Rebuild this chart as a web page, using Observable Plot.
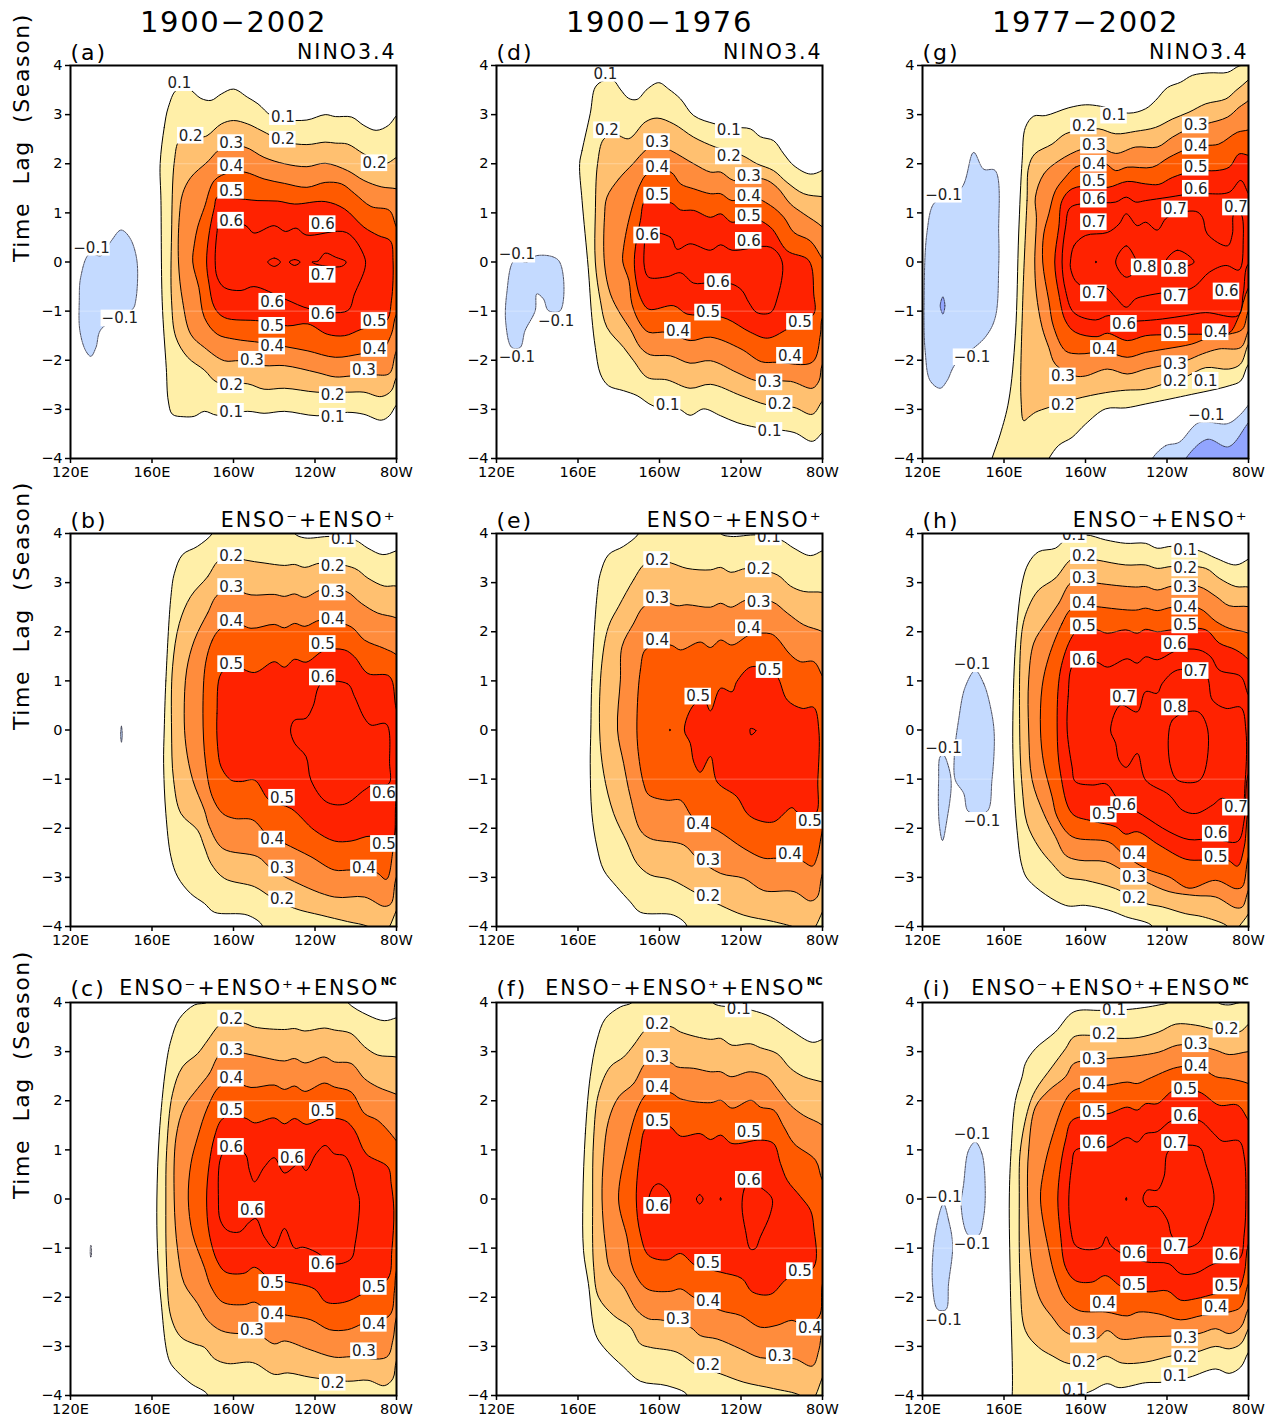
<!DOCTYPE html>
<html><head><meta charset="utf-8">
<script src="https://cdn.jsdelivr.net/npm/d3@7"></script>
<script src="https://cdn.jsdelivr.net/npm/@observablehq/plot@0.6"></script>
<style>
html,body{margin:0;padding:0;background:#fff}
#page{position:relative;width:1271px;height:1422px;overflow:hidden}
#page svg{position:absolute;overflow:visible;background:transparent}
.ttl text{letter-spacing:1.7px}
.hdr text{letter-spacing:2px}
.yl text{letter-spacing:1.6px}
</style></head><body><div id="page"></div>
<script>
// Contours: flat lists of longitude (deg E, 200 = 160W), lag (season)
const a1=[164,2,166,2.74,168,3.15,172,3.5,178,3.52,184,3.33,189,3.29,194,3.42,200,3.52,207,3.35,212,3.22,218.5,2.98,225,2.9,236,2.89,245,3,250,2.96,258,2.95,264,2.78,270,2.68,276,2.78,280,2.98,286,3.2,286,-2.7,280,-2.91,276.5,-3.13,272.5,-3.22,264,-3.1,256,-3.06,241,-3.13,225,-3.04,215,-3.08,207,-3.04,192,-3.12,185.7,-3.04,180.8,-3.14,175.6,-3.15,170,-3.1,168,-2.83,167,-2.15,165,-.8,164.4,1.25];
const a2=[173.4,2.47,179,2.55,184,2.54,187,2.57,194,2.81,200,2.88,207,2.81,213.5,2.68,225,2.45,236,2.39,245,2.44,250,2.42,256,2.4,264,2.2,274,2,280,2.13,286,2.3,286,-2.1,280,-2.35,277.5,-2.62,272.5,-2.74,264,-2.65,256,-2.65,241,-2.65,225,-2.57,215,-2.59,207,-2.48,192,-2.45,185.7,-2.2,177.5,-1.94,171.7,-1.53,169.6,-.79,169.6,.57,171,2.06];
const a3=[179,1.72,187,2.03,195,2.34,205.5,2.34,215,2.13,225,2,236,1.94,245,2.01,256,1.86,264,1.66,272.5,1.53,280,1.49,286,1.4,286,-1.5,280,-1.81,276.5,-2.27,269,-2.3,257.7,-2.32,250,-2.34,241,-2.25,225,-2.11,215,-2.11,203,-2.01,195.5,-2.01,185.7,-1.74,179,-1.47,175,-.79,173,0,173.4,.91,175,1.39];
const a4=[190.6,1.66,198,1.82,205.5,1.83,215,1.69,225,1.6,236,1.52,245,1.62,253,1.59,259.5,1.39,267.5,1.13,276.5,1.05,280,.71,286,.3,286,-.8,280,-1.06,277.5,-1.47,272.5,-1.81,262.7,-1.87,250,-1.94,236.5,-1.81,225,-1.72,213.5,-1.64,200.4,-1.57,192,-1.47,185.7,-1.13,183,-.52,180,0,180.8,.37,182.4,.71,185.7,1.11];
const a5=[192,1.32,200,1.3,212,1.25,221.7,1.24,230,1.18,245,1.23,254.5,1.08,264,.71,271,.54,277,.43,278.3,.03,277.5,-.79,275,-1.2,262.7,-1.37,254.5,-1.5,246,-1.47,236.5,-1.26,226.6,-1.3,213,-1.2,195.5,-1.13,190.6,-.92,188,-.45,186.8,0,188,.57,190.6,1.11];
const a6=[193,.84,206,.74,210,.59,220,.74,225.5,.62,230.7,.69,235.6,.55,255.5,.6,264.3,.1,264.6,-.11,259.4,-.65,256,-.99,238,-.96,225,-.75,210,-.5,203.7,-.58,195.5,-.52,192,-.31,191,.03,192,.64];
const a7a=[216.8,0,220,.08,223,0,220,-.09];
const a7b=[227.4,0,230,.05,232.7,0,230,-.07];
const a7c=[238.5,0,241.5,.02,245,.18,250,.1,255.3,0,253,-.09,241,-.05];
const aN=[129.2,.16,135,.13,140,.43,144.8,.65,149,.5,152.6,.03,152,-.79,150.5,-.96,135,-1.37,132.5,-1.74,130,-1.92,127.5,-1.81,124.6,-1.4,124.3,-.79,125,-.31];
const aLabels=[.1,173.4,3.64,.1,224.2,2.95,.2,179,2.57,.2,224.2,2.49,.2,269.2,2.01,.3,198.8,2.42,.4,198.8,1.95,.5,198.8,1.45,.6,198.8,.84,.6,243.8,.77,.7,243.8,-.26,.6,219,-.81,.6,243.8,-1.06,.5,219,-1.3,.5,269.2,-1.2,.4,219,-1.72,.4,269.2,-1.77,.3,209,-1.99,.3,264,-2.2,.2,198.8,-2.51,.2,248.7,-2.71,.1,198.8,-3.05,.1,248.7,-3.15,-.1,130.3,.29,-.1,144.2,-1.15];

const dd1=[160.8,2,162,2.27,166,3.02,168.5,3.56,172.6,3.69,177.5,3.69,180.7,3.52,184.9,3.33,189,3.31,194,3.52,199.6,3.65,204.5,3.52,210.3,3.32,216.8,2.98,227.4,2.81,236,2.74,244.6,2.71,249.5,2.55,256,2.47,261,2.2,266,1.96,274,1.79,280,1.87,286,2.1,286,-3.2,280,-3.47,275,-3.65,266,-3.47,248,-3.37,238.1,-3.27,230,-3.13,221.7,-2.99,215,-3.12,209.4,-2.99,197,-2.93,189,-2.72,182.4,-2.62,175,-2.52,171,-2.28,168.5,-1.74,166.8,-1.13,165,-.11,162,1.25];
const dd2=[172.6,2.5,178,2.6,184.9,2.51,193,2.85,198.8,2.93,207,2.81,216.8,2.54,227.4,2.34,240.5,2.17,247.8,2,256,1.86,262.6,1.62,270.8,1.39,280,1.33,286,1.3,286,-2.6,280,-2.83,275,-3.1,266,-2.96,253,-2.91,240,-2.72,225,-2.49,215,-2.57,203.7,-2.4,194,-2.35,187.3,-2.01,182.4,-1.74,174.2,-1.33,171,-.79,168.5,0,168.5,.98,169.6,2];
const dd3=[174.2,1.32,180,1.69,187,2,193,2.27,198,2.4,205.5,2.27,216.8,2,225,1.83,230,1.83,236.4,1.66,251,1.69,257.7,1.52,264.3,1.18,270.8,.98,280,.71,286,.4,286,-1.8,280,-2.08,278.3,-2.42,275,-2.57,264.3,-2.43,247.8,-2.42,238,-2.25,225,-2.01,215,-2.06,205.3,-1.91,195.5,-1.89,190.6,-1.74,185.7,-1.37,180.8,-1.06,175.9,-.65,173,-.04,173,.91];
const dd4=[190.6,1.59,194,1.79,205.5,1.83,210.3,1.59,216.8,1.49,225,1.39,230,1.39,235.6,1.25,243.8,1.35,254.5,1.15,261,.91,266,.6,274,.43,280,.06,286,-.3,286,-.9,280,-1.13,279,-1.47,275,-2.04,257.7,-2.04,250,-2.03,240,-1.77,225,-1.53,215,-1.6,203.7,-1.43,194.7,-1.43,190.6,-1.26,186.5,-.86,185,-.38,182,0,182.4,.3,185.7,.98];
const dd5=[193,1.25,200,1.22,206,1.2,210.3,1.06,216.8,1.05,225,.91,230,.98,235.6,.81,243.8,.92,254.4,.71,262.6,.23,273.3,.03,275.7,-.65,275.7,-1.06,262.6,-1.37,253,-1.55,244.6,-1.43,233.2,-1.16,225,-1.08,213.5,-1.06,207,-.89,194.7,-.96,190.6,-.72,188,-.24,187.8,.16,190.6,.84];
const dd6=[193,.6,205.5,.5,208.6,.26,215,.37,225,.24,230,.35,235.6,.24,254.5,.3,260.2,0,257.7,-.75,254.5,-1.03,247.8,-1.03,243.8,-.82,240.5,-.58,235.6,-.45,225,-.42,216.8,-.43,210.3,-.22,203.7,-.3,194.7,-.31,192.6,-.11,192.6,.37];
const dN=[128.7,.03,134.9,0,139.8,.13,150.5,.03,151.3,-.99,145.5,-.99,143,-.75,139.8,-.65,139,-.99,134,-1.4,131.6,-1.74,127.5,-1.74,124.6,-1.26,125,-.65];
const dLabels=[.1,173.4,3.83,.2,174.2,2.68,.3,198.8,2.44,.1,234,2.68,.2,234,2.15,.4,198.8,1.93,.3,243.8,1.75,.4,243.8,1.34,.5,198.8,1.35,.5,243.8,.93,.6,193.9,.54,.6,243.8,.43,.6,228.7,-.41,.5,223.8,-1.03,.5,268.9,-1.22,.4,209,-1.4,.4,264,-1.91,.3,254,-2.45,.2,259,-2.89,.1,204,-2.91,.1,254,-3.44,-.1,130,.15,-.1,149.3,-1.2,-.1,130,-1.94];

const g1=[162.3,-2.83,165.6,-1.47,167.2,.57,168.9,2.06,170.5,2.74,174.6,2.97,180.3,2.98,191.8,3.14,200,3.2,207.4,3.17,221.3,3.03,229.5,3.12,234.4,3.29,240.2,3.55,246.7,3.66,252.5,3.8,260.7,3.85,269.7,3.86,275.4,3.99,282,4.04,288,4.1,288,-1.8,280,-2.08,276.2,-2.42,270.5,-2.52,249.2,-2.72,229.5,-2.89,219.7,-2.97,209.8,-2.99,200,-3.3,193.4,-3.57,186.9,-3.73,182,-4,178,-4.3,152,-4.3,154.1,-4,158.2,-3.5];
const g2=[169.2,-.79,171.3,1.25,172.1,1.93,175.1,2.2,183.6,2.4,190.2,2.61,198,2.68,206.6,2.71,214.8,2.61,224.6,2.66,234.4,2.74,242.6,2.91,250.8,3.05,259,3.22,268.9,3.32,273.8,3.49,280,3.71,286,4,286,-1.3,280,-1.67,276,-2.08,270.3,-2.18,259,-2.15,250,-2.32,237.7,-2.49,229.5,-2.59,219.7,-2.61,209.8,-2.66,195,-2.79,182,-2.96,175.4,-3.06,172.1,-3.16,169.7,-3.23,168.4,-2.83];
const g3=[175.4,1.32,179.5,1.79,186.9,2.06,198.4,2.3,206.6,2.34,214.8,2.21,224.6,2.34,235.2,2.34,242.6,2.54,250,2.7,259,2.81,269.7,2.95,275.4,3.15,280,3.29,286,3.6,286,-1,280,-1.4,276.2,-1.74,265.5,-1.77,257.4,-1.87,249.2,-2.01,237.7,-2.11,229.5,-2.18,220.5,-2.28,210.7,-2.18,200,-2.32,195,-2.32,185.2,-2.08,182,-1.74,178.7,-1.33,175.9,-.65,175.1,0,175.9,.91];
const g4=[190.2,1.73,195,1.93,203,2,209.8,2,214.8,1.86,220.5,1.93,232.8,1.93,241,2.13,250,2.3,259,2.37,265.4,2.4,274.5,2.64,280,2.69,286,2.8,286,-.6,280,-.99,277,-1.37,270.3,-1.47,260,-1.55,252.2,-1.67,239.3,-1.77,229.5,-1.84,220.5,-1.94,210,-1.83,196.7,-1.87,190.2,-1.81,184.4,-1.33,182,-.79,179,0,179.5,.57,182,.98,185.2,1.45];
const g5=[193.4,1.49,204,1.55,211.1,1.52,220.5,1.64,229.5,1.59,236,1.58,242.6,1.72,254,1.86,264,1.86,270.5,1.93,275.4,2.2,280,2.17,286,2.1,286,-.2,280,-.52,275,-1.13,270.3,-1.45,260,-1.47,250.8,-1.47,240,-1.48,229.5,-1.5,220.5,-1.6,210.7,-1.45,205.7,-1.52,195,-1.43,190.2,-1.2,186.9,-.65,184.9,0,186.9,.71,188.5,1.25];
const g6=[192.6,1.11,204,1.2,214.8,1.22,220,1.32,224.6,1.22,229.5,1.25,241,1.32,254,1.4,259.8,1.39,270.5,1.42,276.2,1.66,280,1.39,286,1,286,-.04,280,-.04,277.4,-.65,275,-1.09,259,-1.03,249.2,-1.09,237.7,-1.16,226.2,-1.2,218,-1.2,211.5,-1.09,204.9,-1.18,194.3,-1.03,190.2,-.58,188.5,0,190.2,.71];
const g7=[192.6,0,194.3,.33,200,.54,210.7,.6,216.4,.77,220,.98,225.4,.74,229.5,.81,235.2,.65,240.2,.91,254.1,1.03,257.4,.91,259.8,.57,269.7,.33,272.1,.57,272.9,.98,276.2,.98,277.4,.43,275.4,-.16,268.9,-.07,260.7,-.21,254.1,-.48,249.2,-.58,239.3,-.62,229.5,-.69,224.6,-.75,220,-.92,214.8,-.72,209.8,-.52,200,-.52,195,-.38,192.6,-.11];
const g8a=[214.8,0,220,.33,224.6,.06,226,-.1,220,-.31];
const g8b=[239.3,0,245.1,.24,253.3,0,248,-.1,241,-.1];
const g8c=[205,.02,205.4,0,205,-.02];
const gN1=[125.4,1.18,130,1.3,139.3,1.52,145.1,2.23,150,1.89,155.7,1.86,157.4,.57,157.4,-.1,155.7,-1.13,150.8,-1.53,136.1,-2.08,132,-2.42,128.7,-2.57,123.8,-2.42,121.3,-1.81,120.8,-.79,122.1,.57];
const gN2=[232.8,-4,239.3,-3.74,245.9,-3.67,255.7,-3.27,269.7,-3.29,275.4,-3.13,280,-2.91,286,-2.6,286,-4.3,230,-4.3];
const gN3=[249.2,-4,259.8,-3.61,270.2,-3.76,280,-3.27,286,-3,286,-4.3,246,-4.3];
const gN4=[130,-.71,131,-.89,130,-1.06,128.7,-.89];
const gLabels=[.1,214,2.98,.2,199.2,2.76,.3,254.1,2.78,.3,204.1,2.37,.4,254.1,2.35,.4,204.1,2,.5,254.1,1.92,.5,204.1,1.64,.6,254.1,1.49,.6,204.1,1.27,.7,243.9,1.07,.7,273.8,1.11,.7,204.1,.81,.8,229,-.11,.8,243.9,-.14,.6,269.2,-.6,.7,204.1,-.64,.7,243.9,-.7,.6,218.9,-1.26,.5,243.9,-1.45,.4,263.9,-1.43,.4,209,-1.77,.3,243.9,-2.08,.2,243.9,-2.42,.1,259,-2.42,.3,188.9,-2.33,.2,188.9,-2.91,-.1,259.3,-3.11,-.1,130.3,1.37,-.1,144.3,-1.94];

const b1=[166,0,166.8,1,169.3,2.72,171,3.19,175,3.57,182.4,3.74,189.8,4.01,192,4.3,228,4.3,230,4,235,3.91,248,3.94,259.5,3.87,266,3.7,273.3,3.57,280,3.65,288,3.8,288,-4.3,212,-4.3,214.3,-4,207,-3.77,190.6,-3.71,185.7,-3.53,179,-3.33,172.6,-2.99,169.3,-2.58,166.8,-1.7,165.7,-.68];
const b2=[192.2,3.43,187.3,3.12,179,2.72,173.4,2.17,170.1,1.29,169.6,0,170.6,-1.02,174.2,-1.7,182.4,-2.04,185.7,-2.38,189,-2.72,195.5,-3.02,210.3,-3.19,218.5,-3.4,229.9,-3.63,243,-3.77,256,-3.9,266,-4,270.8,-4.15,274,-4.15,276.6,-4,280,-3.67,286,-3.2,286,2.8,280,2.93,274,2.93,266,3.09,259.5,3.29,243,3.4,235,3.31,230,3.37,225,3.35,215,3.4,205.7,3.46,198,3.55];
const b3=[192.2,2.75,187.3,2.38,180.8,1.83,177,1.22,175.8,.34,176.7,-.34,180,-1.02,185.7,-1.63,188.2,-1.97,194.7,-2.41,211.9,-2.58,218.5,-2.82,230,-3.09,249.5,-3.4,264.3,-3.4,274,-3.59,277.4,-3.53,280,-2.99,286,-2.6,286,2.1,280,2.28,270.8,2.38,262.7,2.58,255.3,2.82,243,2.85,235,2.7,230,2.77,225,2.72,220,2.76,208.6,2.75,200,2.85];
const b4=[193,2.04,189.6,1.83,186.3,1.36,185,.34,186.3,-.68,189.6,-1.36,194.7,-1.7,200.4,-1.8,209.4,-1.83,217,-2.15,225,-2.31,238,-2.58,249.5,-2.85,257.7,-2.85,270,-2.9,275,-3.04,278.3,-2.45,280,-1.9,286,-1.2,286,1.2,280,1.53,274,1.66,264.3,1.83,257.7,2.1,243,2.24,235,2.11,230,2.17,225,2.08,220,2.15,208.6,2.07,200,2.2];
const b5=[193.9,1.15,191.9,.34,192.2,-.34,193.9,-.75,198.8,-1.02,203.7,-1.05,210.3,-1.02,217.6,-1.43,228.3,-1.6,239.7,-2.04,249.5,-2.26,257.7,-2.26,267.5,-2.16,277.4,-2.31,280,-1.36,286,-.4,286,-.2,280,.41,276.6,1.09,266,1.15,259.4,1.49,254.5,1.63,244.6,1.62,235.6,1.38,230,1.44,225,1.28,220,1.39,210.3,1.17,200,1.3];
const b6=[243,.94,256,.94,259.4,.68,264.3,.24,267.5,.1,275,.12,276.6,-.68,276.3,-1.09,268.4,-1.12,264.3,-1.22,254.5,-1.51,245.5,-1.46,238,-1.02,235.6,-.54,230,-.27,228,0,229.9,.2,235.6,.24,239,.48];
const bN=[144.6,-.1,145,.08,145.4,-.1,145,-.25];
const bLabels=[.1,253.7,3.88,.2,198.8,3.54,.2,248.7,3.34,.3,198.8,2.91,.3,248.7,2.8,.4,198.8,2.22,.4,248.7,2.25,.5,243.8,1.75,.5,198.8,1.34,.6,243.8,1.07,.5,223.8,-1.38,.6,273.8,-1.29,.4,219,-2.23,.5,273.8,-2.32,.4,264,-2.82,.3,223.8,-2.82,.2,223.8,-3.45];

const e1=[166.3,0,166.8,1.02,169.3,2.72,171,3.19,175,3.57,182.4,3.74,189.8,4,192,4.3,228,4.3,230,4,235,3.94,248,3.97,259.5,3.87,266,3.7,274,3.55,280,3.65,288,3.8,288,-4.3,211,-4.3,213.5,-4,207,-3.77,190.6,-3.71,185.7,-3.5,179,-3.19,172.6,-2.85,169.3,-2.38,166.8,-1.7,166,-.68];
const e2=[192.2,3.36,187.3,3.06,180,2.52,175,2.11,171.7,1.36,170.6,0,172.6,-.88,177.5,-1.7,184,-2.28,189,-2.72,195.5,-2.95,205.3,-3.04,218.5,-3.33,230,-3.57,241.4,-3.77,256,-3.9,267.6,-4.04,271,-4.15,274,-4.15,276.6,-4,280,-3.7,286,-3.2,286,2.7,280,2.8,270.8,2.82,264.3,2.93,257.7,3.16,243,3.29,235,3.21,230,3.31,225,3.26,213.5,3.29,205.7,3.4,198,3.48];
const e3=[192.2,2.51,187.3,2.17,181.6,1.7,180.8,1.02,179.4,0,182.4,-.68,185.7,-1.36,190.6,-2.04,195.5,-2.21,211.9,-2.34,218.5,-2.61,230,-2.92,241.4,-3.02,251.2,-3.27,266,-3.29,274,-3.48,277.4,-3.4,280,-2.92,286,-2.4,286,1.8,280,2,270.8,2.14,262.7,2.38,255.3,2.61,243,2.65,235,2.5,230,2.58,225,2.5,213.5,2.55,208.6,2.53,200,2.65];
const e4=[193,1.63,190.6,1.22,189,.34,189.3,-.34,192.2,-1.09,194.7,-1.32,203.7,-1.43,210.3,-1.43,216.8,-1.8,228.3,-2.04,241.4,-2.41,251.2,-2.61,257.7,-2.61,269,-2.65,275,-2.77,277.4,-2.58,280,-2.04,286,-1.2,286,.6,280,1.09,275.7,1.39,269.2,1.39,264.3,1.53,257.7,1.87,254.5,1.96,244.6,1.94,235.6,1.73,230,1.83,225,1.68,220,1.79,210.3,1.63,206.2,1.72,200,1.75];
const e5=[212.2,0,216.8,.51,222,.6,225,.39,230,.85,235.6,.78,238,.99,244.6,1.28,252,1.25,257.7,1.09,262.7,.61,270,.44,275.7,.46,278.2,0,277.7,-1.02,276.6,-1.7,267.6,-1.67,265,-1.58,256,-1.87,247.9,-1.83,243,-1.7,238,-1.36,228.3,-1.06,225,-.54,220,-.86,216.8,-.65,215.1,-.27];
const e6=[244.6,.03,247.4,-.01,244.9,-.1];
const e7=[205,.02,205.4,0,205,-.02];
const eLabels=[.1,253.7,3.92,.2,198.8,3.46,.2,248.7,3.27,.3,198.8,2.68,.3,248.7,2.61,.4,243.8,2.07,.4,198.8,1.82,.5,254,1.22,.5,219,.68,.5,273.8,-1.85,.4,219,-1.92,.4,264,-2.53,.3,223.8,-2.64,.2,223.8,-3.38];

const h1=[164.3,0,165.6,1.7,168.9,2.99,172.1,3.4,177,3.63,185.2,3.7,190.2,3.87,200,3.97,209.8,3.87,219.7,3.8,229.5,3.8,235.2,3.7,242.6,3.74,255.7,3.65,263.9,3.5,273.8,3.36,280,3.48,288,3.7,288,-4.3,230,-4.3,232.8,-4,219.7,-3.8,211.5,-3.67,200,-3.57,190.2,-3.57,172.1,-3.06,168.9,-2.78,166.4,-2.04,164.8,-1.02];
const h2=[192.6,3.46,185.2,3.09,177,2.85,172.1,2.51,168.9,2.04,167.7,0,168.9,-1.15,171.3,-1.9,177,-2.38,183.6,-2.72,190.2,-2.99,200,-3.06,214.8,-3.23,229.5,-3.53,237.7,-3.6,249.2,-3.74,257.4,-3.8,268.9,-3.97,272,-4.1,274,-4.1,275.4,-4,280,-3.74,286,-3.2,286,2.8,280,2.91,273.8,2.92,265.6,3.09,259,3.29,242.6,3.33,235.2,3.29,229.5,3.36,219.7,3.36,205.7,3.46,198,3.52];
const h3=[192.6,2.99,186.9,2.58,180.3,2.17,174.6,1.77,172.1,1.02,172.1,0,173.8,-1.02,179.5,-1.7,185.2,-2.17,190.2,-2.55,196.7,-2.65,209.8,-2.68,218,-2.85,229.5,-3.09,241,-3.29,254.1,-3.37,263.9,-3.4,273.8,-3.62,277,-3.6,280,-3.26,286,-2.8,286,2.4,280,2.51,270.5,2.53,264,2.72,255.7,2.92,242.6,2.93,235.2,2.85,229.5,2.92,224.6,2.91,205.7,2.99,198,3.05];
const h4=[192.6,2.45,188.5,2.17,182,1.49,178.7,.88,177.9,0,179.5,-.68,183.6,-1.36,186.1,-1.77,193.4,-2.17,211.5,-2.28,218,-2.51,229.5,-2.82,241,-2.99,250.8,-3.22,263.9,-3.06,273.8,-3.23,277,-3.19,280,-2.58,286,-2,286,1.8,280,1.97,270.5,2.07,264,2.21,255.7,2.48,242.6,2.5,235.2,2.43,229.5,2.48,224.6,2.44,205.7,2.51,198,2.55];
const h5=[193.4,1.9,187.7,1.22,186.1,0,187.7,-.88,193.4,-1.7,203,-1.85,214.8,-1.97,219.7,-2.12,225.4,-2.07,236.1,-2.34,249.2,-2.63,257.4,-2.65,269.7,-2.65,274.6,-2.77,277.9,-2.38,280,-1.63,286,-1,286,1,280,1.43,273.8,1.63,265.6,1.77,259,2.04,242.6,2.04,235.2,2,229.5,2.05,225.4,1.97,219.7,2.04,210.7,1.97,205.7,2.04,198,2.1];
const h6=[193.4,1.29,191.5,.68,191,0,193.4,-.75,195,-1.05,203.3,-1.12,210.2,-1.1,216.4,-1.43,227.9,-1.73,241,-2.07,250.8,-2.23,262.3,-2.21,274.6,-2.27,277.9,-1.83,280,-.88,286,-.5,286,.4,280,.71,276.2,1.09,265.6,1.22,261.5,1.49,255.7,1.63,245,1.62,235.2,1.43,229.5,1.49,225.4,1.36,220.5,1.45,210.7,1.28,205.7,1.38,198,1.42];
const h7=[212.3,0,217.2,.51,225.4,.37,229.5,.78,235.2,.75,237.7,.95,245.1,1.22,259,1.12,262.3,.61,268.9,.44,276.2,.46,278.7,0,278.4,-1.02,276.2,-1.6,267.2,-1.39,262.3,-1.53,254.1,-1.7,247.5,-1.63,241,-1.32,229.5,-1.02,225.4,-.48,220,-.76,216.4,-.61,214.8,-.27];
const h8=[240.7,-.14,242.6,.2,249.2,.36,255.7,.36,260,0,258.2,-.88,254.9,-1.05,245.1,-1.02,241.8,-.75];
const hN1=[145.9,1.21,150,.95,153.3,.48,155.2,-.07,154.1,-1.02,151.6,-1.66,142.6,-1.66,140.2,-1.29,136.1,-1.02,135.6,-.54,137.7,.2,141,.88];
const hN2=[130.3,-.51,132.8,-.75,134.1,-1.09,132,-1.83,129.8,-2.25,128.2,-1.9,127.9,-1.02,128.7,-.54];
const hLabels=[.1,194.3,3.97,.1,248.9,3.67,.2,199.2,3.54,.2,248.9,3.29,.3,199.2,3.09,.3,248.9,2.91,.4,199.2,2.59,.4,248.9,2.51,.5,199.2,2.11,.5,248.9,2.13,.6,243.9,1.75,.6,199.2,1.43,.7,254.1,1.2,.7,218.9,.66,.8,243.9,.46,.5,209,-1.72,.6,218.9,-1.53,.7,273.8,-1.58,.6,263.9,-2.11,.5,263.9,-2.58,.4,223.8,-2.53,.3,223.8,-2.99,.2,223.8,-3.43,-.1,144.3,1.34,-.1,130.3,-.37,-.1,149.2,-1.85];

const c1=[162.4,0,163.6,1.33,166.8,2.69,169.3,3.23,173.4,3.67,180.8,3.95,187.3,4.01,190,4.3,252,4.3,256,4,266,3.74,274,3.63,280,3.69,288,3.8,288,-4.3,185,-4.3,187.3,-3.99,179.2,-3.76,172.6,-3.52,168.5,-3.29,164.4,-2.06,162.7,-1.05];
const c2=[193,3.54,187.3,3.23,182.4,2.96,175,2.69,170.1,2.15,167.2,.99,166.8,0,167.2,-1.39,169.3,-2.4,174.2,-2.81,180.8,-2.95,185.7,-3.02,190.6,-3.25,197.1,-3.35,209.4,-3.33,220,-3.57,226.6,-3.54,238,-3.63,256,-3.71,266,-3.69,274,-3.8,278.2,-3.66,280,-3.29,286,-2.8,286,2.8,280,2.89,270.8,2.93,264.3,3.1,257.7,3.37,249.5,3.44,244.6,3.48,235,3.42,230,3.47,225,3.45,210.3,3.5,206,3.57,198,3.65];
const c3=[193,2.93,188.1,2.55,182.4,2.25,175.8,1.87,171.8,1.26,170.9,0,172.6,-1.05,175.8,-1.72,182.4,-2.13,187.3,-2.47,194,-2.68,203,-2.74,210.3,-2.71,220,-2.95,225,-2.89,236.4,-3.05,249.5,-3.22,257.7,-3.21,275.1,-3.22,278.2,-2.88,280,-2.4,286,-1.8,286,2,280,2.13,270.8,2.28,264.3,2.45,257.7,2.76,249.5,2.79,244.6,2.89,235,2.77,230,2.86,225,2.81,215,2.88,206,2.96,198,3.02];
const c4=[193,2.28,187.3,1.87,182.4,1.26,179.1,.72,177.8,0,179.9,-.71,185.7,-1.39,189,-1.79,194.7,-2.1,205.3,-2.15,210.3,-2.1,216.8,-2.27,226.6,-2.37,238,-2.46,247.1,-2.66,256,-2.66,263.4,-2.54,276.6,-2.37,279,-1.86,280,-1.45,286,-.9,286,.8,280,1.18,270.8,1.6,264.3,1.74,257.7,2.18,249.5,2.28,244.6,2.36,235,2.19,230,2.3,225,2.23,220,2.32,208.6,2.27,200,2.38];
const c5=[193.9,1.6,190.6,1.26,188.1,.72,186.8,0,188.1,-.71,192.2,-1.28,196.3,-1.49,205.3,-1.51,210.3,-1.39,218,-1.62,226.6,-1.69,239.7,-1.83,245.5,-2.1,254.5,-2.1,263.4,-1.93,275.8,-1.62,277.7,-1.05,278.7,-.23,277.4,.31,275.8,.65,265.1,.92,259.4,1.4,254.5,1.6,243.8,1.64,235.6,1.52,230,1.64,225,1.53,220,1.65,210.3,1.55,206.2,1.64,198,1.7];
const c6=[193.9,.86,192.6,0,193.5,-.43,197.1,-.64,203,-.67,207.8,-.47,211,-.4,215.1,-.77,220,-.99,225,-.6,230,-1,234,-.98,240.5,-1.08,249.5,-1.32,257.7,-1.22,259.7,-.91,261.8,-.03,260.2,.24,257.7,.65,254.5,.88,249.5,.92,245,1.09,240.5,.92,235.6,.58,232.3,.72,225,.53,220,.84,215.1,.65,210.3,.35,207.8,.58,205.7,.92,198,1.05];
const cN=[129.9,-.95,130.1,-.95,130.1,-1.18,129.9,-1.18];
const cLabels=[.2,198.8,3.67,.3,198.8,3.03,.4,198.8,2.45,.5,198.8,1.81,.5,243.8,1.79,.6,198.8,1.06,.6,228.7,.84,.6,209,-.22,.6,243.8,-1.33,.5,219,-1.71,.5,268.9,-1.79,.4,219,-2.35,.4,268.9,-2.54,.3,209,-2.68,.3,264,-3.1,.2,248.7,-3.74];

const f1=[162.4,0,163.6,1.33,166,2.49,169.3,3.23,173.4,3.67,180.8,3.91,186.5,4,190,4.3,222,4.3,226.6,3.98,238,3.9,245.5,3.84,254.5,3.71,264.3,3.44,275,3.19,280,3.25,288,3.4,288,-4.3,211,-4.3,213.5,-3.99,203.7,-3.8,190.6,-3.71,182.4,-3.42,172.6,-3.02,168.5,-2.74,165.1,-1.72,162.7,-1.05];
const f2=[193,3.44,187.3,3.13,182.4,2.89,175.8,2.69,170.1,2.15,167.7,1.26,167.2,0,167.7,-1.39,170.1,-2,177.5,-2.37,185.7,-2.61,190.6,-2.95,195.5,-3.02,208.6,-3.12,218.5,-3.39,230,-3.56,241.4,-3.73,256,-3.86,269,-4,272,-4.15,274,-4.17,276.6,-4,280,-3.63,286,-3.1,286,2.3,280,2.38,270.8,2.49,264.3,2.66,257.7,2.96,249.5,3.08,244.6,3.16,235.6,3.13,230,3.27,225,3.25,210.3,3.4,206.2,3.5,198,3.55];
const f3=[193,2.76,187.3,2.35,180,2.08,175,1.6,172.6,.86,171.8,0,173.4,-.91,175.8,-1.45,182.4,-1.79,189,-2.27,194.7,-2.44,200.4,-2.46,215.1,-2.61,220,-2.78,228.3,-2.85,239.7,-3.05,249.5,-3.23,266,-3.25,275,-3.4,278.2,-3.08,280,-2.68,286,-2.2,286,1.2,280,1.5,270.8,1.7,264.3,1.91,257.7,2.25,252.8,2.49,244.6,2.59,235,2.49,230,2.59,225,2.59,216.8,2.66,208.6,2.69,206.2,2.76,198,2.88];
const f4=[193,2.11,189,1.81,184,1.06,179.9,0,184,-.77,187.3,-1.45,193.9,-1.83,205.3,-1.88,210.3,-1.83,216.8,-2,230,-2.27,239.7,-2.37,249.5,-2.61,257.7,-2.57,265,-2.47,270,-2.55,278.2,-2.4,280,-1.72,286,-.8,286,.1,280,.38,276.6,.79,266,1.13,261,1.47,256,1.81,249.5,1.87,245,2.01,235.6,1.85,230,2.01,225,1.96,210.3,2.04,206.2,2.15,198,2.25];
const f5=[193,1.43,190.6,.99,188.6,0,190.6,-.71,194.7,-1.15,203.7,-1.24,210.3,-1.11,217.6,-1.35,230,-1.49,240.5,-1.62,245.5,-1.89,254.5,-1.94,262.7,-1.62,275.7,-1.39,275.7,-.57,274.1,-.23,269.2,.05,262.7,.38,259.4,.72,256,1.13,249.5,1.2,235.6,1.13,230,1.3,225,1.21,220,1.33,210.3,1.28,205.3,1.47,198,1.55];
const f6=[194.7,0,197,.25,199.6,.31,203,.22,205.4,.05,205,-.1,195,-.1];
const f7=[240.5,-.16,241.4,.18,243.8,.38,249.5,.24,255.2,.01,254.4,-.3,249.5,-.77,247,-1.01,244.6,-1.02,242.2,-.64];
const f8=[218.1,0,219.7,.09,221.4,0,219.7,-.1];
const f9=[229.7,0,230,.03,230.3,0,230,-.03];
const fLabels=[.1,238.9,3.86,.2,198.8,3.56,.3,198.8,2.89,.4,198.8,2.28,.5,198.8,1.58,.5,243.8,1.37,.6,243.8,.39,.6,198.8,-.14,.5,223.8,-1.3,.5,268.9,-1.47,.4,223.8,-2.08,.3,209,-2.45,.4,273.8,-2.62,.3,259,-3.2,.2,223.8,-3.38];

const i1=[162.6,0,163.5,1,165.6,2.01,168.9,2.49,170.5,2.76,175.4,3.06,185.2,3.4,194.3,3.81,207.4,3.84,221.3,3.86,236,3.95,240.8,4.01,243,4.3,262,4.3,265.1,4,270,3.95,275.7,4,282,4.05,288,4.2,288,-2.7,280,-3.12,276.2,-3.42,270.5,-3.55,263.9,-3.46,250.8,-3.63,237.7,-3.73,229.5,-3.74,216.4,-3.84,210.7,-3.76,203.3,-3.9,196.7,-4.03,190,-4.3,163,-4.3,164,-4,163.1,-1.72];
const i2=[167.5,0,168,.99,172.1,1.87,175.4,2.21,183.6,2.69,190.2,3.06,194.3,3.3,203.3,3.33,216.4,3.27,226.2,3.29,236,3.4,244.3,3.56,253.9,3.54,263.9,3.45,275.4,3.4,280,3.56,286,3.8,286,-2.2,280,-2.64,276.2,-2.95,270.5,-3.05,263.9,-3,254.1,-3.12,242.6,-3.19,229.5,-3.32,218,-3.34,209.8,-3.2,203.3,-3.32,191.8,-3.35,183.6,-3.19,177,-3.02,170.5,-2.68,168,-1.72];
const i3=[171.6,0,172.1,.99,175.4,1.87,182,2.21,190.2,2.49,194.3,2.76,203,2.82,211.5,2.86,224.6,2.91,236,2.99,245,3.13,254,3.13,263.9,3.03,270.5,2.94,280,3,286,3,286,-1.9,280,-2.23,276.2,-2.61,270.5,-2.74,263.9,-2.64,255.7,-2.74,242.6,-2.79,229.5,-2.81,217.2,-2.85,210.7,-2.68,205,-2.85,190.2,-2.71,183.6,-2.4,177.9,-2.06,173.8,-1.39];
const i4=[177.9,0,179.5,.58,183.6,1.26,190.2,2.01,194.3,2.21,203,2.29,211.5,2.32,220.5,2.38,225.4,2.35,231.1,2.45,245,2.68,255.7,2.69,263.9,2.49,270.5,2.45,280,2.35,286,2.2,286,-1.3,280,-1.72,276.2,-2.2,270.5,-2.3,257.4,-2.37,246.7,-2.46,236,-2.34,226.2,-2.3,220.5,-2.38,210,-2.3,196.7,-2.27,190.2,-2.06,185.2,-1.59,182,-1.05];
const i5=[186.4,0,187.7,.65,190.2,1.2,193.4,1.6,203,1.7,211.5,1.74,220.5,1.87,225.4,1.81,229.5,1.94,235.2,1.94,243.4,2.21,255.7,2.18,265.6,1.91,274.6,1.91,280,1.6,286,1.2,286,-.5,280,-.91,277.9,-1.52,274.6,-1.86,263.9,-1.93,254.1,-2.03,246.7,-2.06,240.2,-1.87,231.1,-1.89,218,-1.79,209.8,-1.56,203.3,-1.69,195,-1.66,190.2,-1.39,187.7,-.71];
const i6=[191.8,0,193.4,.72,195,.99,204,1.05,211.5,1.06,220.5,1.25,225.4,1.16,229.5,1.33,235.2,1.37,242.6,1.6,255.7,1.6,263,1.33,267.1,1.18,275.4,1.18,277.9,.86,278.7,-.03,277.9,-.71,275.4,-1.22,263,-1.32,254.1,-1.51,246.7,-1.52,241,-1.32,229.5,-1.28,218,-1.11,212.3,-.94,210.2,-.77,207.4,-.98,200,-1.03,195,-.94,192.6,-.57];
const i7=[241,.99,255.7,1.06,259,.72,263.1,0,259,-.57,255.7,-.88,249.2,-.98,242.6,-.77,240.2,-.43,235.2,-.16,230.3,-.15,228.2,0,230.3,.18,235.2,.18,238.5,.45];
const i8=[219.7,0,220,.03,220.3,0,220,-.03];
const iN1=[145.9,1.16,149.2,.92,150.8,.18,150,-.37,147.5,-.74,142.6,-.74,139,-.16,140.2,.31,142.6,.99];
const iN2=[130.3,-.1,132.8,-.43,134.8,-.94,132.8,-1.72,131.5,-2.25,127.5,-2.25,124.9,-1.72,126.2,-.71];
const iLabels=[.1,214,3.84,.2,269.2,3.45,.2,209,3.35,.3,254.1,3.15,.3,204.1,2.84,.4,254.1,2.71,.4,204.1,2.33,.5,248.9,2.23,.5,204.1,1.77,.6,248.9,1.69,.6,204.1,1.13,.7,243.9,1.14,.7,243.9,-.96,.6,223.8,-1.11,.6,269.2,-1.15,.5,223.8,-1.75,.5,269.2,-1.78,.4,209,-2.13,.4,263.9,-2.21,.3,199.2,-2.76,.3,248.9,-2.83,.2,199.2,-3.32,.2,248.9,-3.22,.1,243.9,-3.61,.1,194.3,-3.9,-.1,144.3,1.31,-.1,130.3,.03,-.1,144.3,-.91,-.1,130.3,-2.46];

const lonTicks=[120,160,200,240,280];
const lonNames=["120E","160E","160W","120W","80W"];
const lagTicks=[-4,-3,-2,-1,0,1,2,3,4];
const periods=["1900−2002","1900−1976","1977−2002"];
const subtitles=["NINO3.4","ENSO⁻+ENSO⁺","ENSO⁻+ENSO⁺+ENSO"];
const fillColors=["#FFEFA8","#FFC070","#FF8C3C","#FF5A00","#FF2200"];
const blueLight="#C4DAFF", blueDark="#92A5FF";

const panels=[
 {id:"a",col:0,row:0,up:[a1,a2,a3,a4,a5],lines:[a6,a7a,a7b,a7c],low:[[aN,blueLight]],labels:aLabels},
 {id:"b",col:0,row:1,up:[b1,b2,b3,b4,b5],lines:[b6],low:[[bN,blueLight]],labels:bLabels},
 {id:"c",col:0,row:2,up:[c1,c2,c3,c4,c5],lines:[c6],low:[[cN,"none"]],labels:cLabels},
 {id:"d",col:1,row:0,up:[dd1,dd2,dd3,dd4,dd5],lines:[dd6],low:[[dN,blueLight]],labels:dLabels},
 {id:"e",col:1,row:1,up:[e1,e2,e3,e4,e5],lines:[e6,e7],low:[],labels:eLabels},
 {id:"f",col:1,row:2,up:[f1,f2,f3,f4,f5],lines:[f6,f7,f8,f9],low:[],labels:fLabels},
 {id:"g",col:2,row:0,up:[g1,g2,g3,g4,g5],lines:[g6,g7,g8a,g8b,g8c],low:[[gN1,blueLight],[gN4,blueDark],[gN2,blueLight],[gN3,blueDark]],labels:gLabels},
 {id:"h",col:2,row:1,up:[h1,h2,h3,h4,h5],lines:[h6,h7,h8],low:[[hN1,blueLight],[hN2,blueLight]],labels:hLabels},
 {id:"i",col:2,row:2,up:[i1,i2,i3,i4,i5],lines:[i6,i7,i8],low:[[iN1,blueLight],[iN2,blueLight]],labels:iLabels}
];

const pairs=f=>d3.range(0,f.length,2).map(k=>({lon:f[k],lag:f[k+1]}));
const triples=f=>d3.range(0,f.length,3).map(k=>({v:f[k],lon:f[k+1],lag:f[k+2]}));
const fmt=v=>(v<0?"−":"")+Math.abs(v).toFixed(1);
const colLeft=[0,426,852], rowTop=[0,468,937], headDy=[-13,-13,-14];
const page=document.getElementById("page");

for(const p of panels){
  const labels=triples(p.labels);
  const contour=(f,fill,extra={})=>Plot.line(pairs(f),{x:"lon",y:"lag",fill,stroke:"#000",strokeWidth:1,curve:"catmull-rom-closed",clip:"frame",...extra});
  const marks=[
    ...p.up.map((f,k)=>contour(f,fillColors[k])),
    ...p.low.map(([f,c])=>contour(f,c,{strokeDasharray:"1.5,1",strokeWidth:.8,stroke:"#223"})),
    Plot.ruleY([2,-1],{stroke:"#fff",strokeOpacity:.3,strokeWidth:1,clip:"frame"}),
    ...p.lines.map(f=>contour(f,"none")),
    Plot.rect(labels,{x1:d=>d.lon-(d.v<0?9.2:6.5),x2:d=>d.lon+(d.v<0?9.2:6.5),y1:d=>d.lag-.17,y2:d=>d.lag+.17,fill:"#fff",clip:"frame"}),
    Plot.text(labels,{x:"lon",y:"lag",text:d=>fmt(d.v),fontSize:15,fill:"#222",clip:"frame"}),
    Plot.frame({stroke:"#000",strokeWidth:2}),
    Plot.axisX(lonTicks,{tickSize:5,tickPadding:3,strokeWidth:1.5,fontSize:14.5,label:null,tickFormat:d=>lonNames[lonTicks.indexOf(d)]}),
    Plot.axisY(lagTicks,{tickSize:5,tickPadding:3,strokeWidth:1.5,fontSize:14.5,label:null}),
    Plot.text([`(${p.id})`],{frameAnchor:"top-left",lineAnchor:"middle",dy:headDy[p.row],textAnchor:"start",fontSize:22,className:"hdr"}),
    Plot.text([subtitles[p.row]],{frameAnchor:"top-right",lineAnchor:"middle",dy:headDy[p.row],dx:p.row==2?-17:0,textAnchor:"end",fontSize:20.5,className:"hdr"})
  ];
  if(p.row==2) marks.push(Plot.text(["NC"],{frameAnchor:"top-right",lineAnchor:"middle",dy:-21,textAnchor:"end",fontSize:10,fontWeight:"bold"}));
  if(p.row==0) marks.push(Plot.text([periods[p.col]],{frameAnchor:"top",lineAnchor:"middle",dy:-43,fontSize:29,className:"ttl"}));
  if(p.col==0) marks.push(Plot.text(["Time  Lag  (Season)"],{frameAnchor:"left",dx:-49,rotate:-90,fontSize:22,className:"yl"}));
  const svg=Plot.plot({
    width:426,height:485,marginLeft:70,marginRight:30,marginTop:65,marginBottom:27,
    x:{domain:[120,280],axis:null},y:{domain:[-4,4],axis:null},
    style:{fontFamily:"'DejaVu Sans',sans-serif",fontSize:"14.5px",color:"#000",background:"transparent",overflow:"visible"},
    marks
  });
  svg.style.left=colLeft[p.col]+"px"; svg.style.top=rowTop[p.row]+"px";
  page.appendChild(svg);
}
</script></body></html>
